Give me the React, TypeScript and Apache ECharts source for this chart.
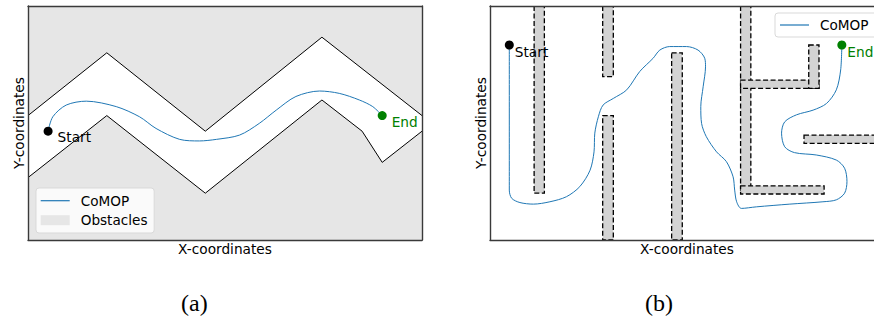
import React, { useEffect, useRef } from "react";
import * as echarts from "echarts";

// ---------- (a) corridor ----------
const upperX = [0, 2, 4.5, 7.46, 10];
const upperY = [3.19, 4.8, 2.79, 5.2, 3.19];
const lowerX = [0, 2, 4.5, 7.46, 8.48, 8.99, 10];
const lowerY = [1.6, 3.19, 1.2, 3.59, 2.79, 1.99, 2.79];

const pathAX = [0.51, 0.63, 0.97, 1.48, 2.24, 2.83, 3.25, 3.85, 4.35, 4.78, 5.37, 5.87, 6.3, 6.8, 7.4, 7.9, 8.41, 8.75, 8.99];
const pathAY = [2.79, 3.16, 3.46, 3.56, 3.42, 3.16, 2.86, 2.58, 2.54, 2.58, 2.69, 2.99, 3.33, 3.68, 3.82, 3.76, 3.59, 3.42, 3.19];

// ---------- (b) maze ----------
// [x0, y0, x1, y1]
const obstaclesB = [
  [1.12, 1.2, 1.38, 6.0],
  [2.86, 4.19, 3.13, 6.0],
  [2.86, 0, 3.13, 3.19],
  [4.61, 0, 4.88, 4.8],
  [6.36, 1.2, 6.62, 6.0],
  [6.36, 3.89, 8.35, 4.1],
  [8.09, 3.89, 8.35, 5.0],
  [7.97, 2.48, 10.6, 2.69],
  [6.36, 1.18, 8.48, 1.39],
];

const pathBX = [0.49, 0.49, 0.55, 0.76, 1.1, 1.52, 1.94, 2.28, 2.54, 2.64, 2.66, 2.75, 2.87, 3.13, 3.47, 3.8, 4.14, 4.31, 4.56, 4.99, 5.28, 5.45, 5.47, 5.41, 5.35, 5.37, 5.49, 5.75, 6.0, 6.17, 6.21, 6.26, 6.38, 6.76, 7.61, 8.45, 8.79, 9.0, 9.06, 9.0, 8.79, 8.28, 7.73, 7.48, 7.4, 7.48, 7.78, 8.2, 8.54, 8.79, 8.9, 8.93];
const pathBY = [5.0, 1.28, 1.07, 0.96, 0.92, 0.98, 1.11, 1.37, 1.79, 2.26, 2.74, 3.16, 3.46, 3.63, 3.85, 4.32, 4.66, 4.87, 4.96, 4.96, 4.87, 4.66, 4.44, 3.93, 3.42, 2.99, 2.65, 2.26, 2.01, 1.62, 1.28, 0.98, 0.81, 0.85, 0.92, 0.98, 1.03, 1.2, 1.5, 1.84, 2.05, 2.18, 2.24, 2.39, 2.74, 3.03, 3.21, 3.33, 3.5, 3.85, 4.36, 5.0];

const X_MAX = 10;
const Y_MAX = 6;

const FONT = "DejaVu Sans";
const BLUE = "#1f77b4";
const SPINE = "#3a3a3a";
const LINE_ICON = "path://M0,0L29,0L29,1.2L0,1.2Z";

const zip = (xs: number[], ys: number[]) => xs.map((x, i) => [x, ys[i]]);

export default function App() {
  const ref = useRef<HTMLDivElement>(null);
  useEffect(() => {
    if (!ref.current) return;
    const chart = echarts.init(ref.current, null, { renderer: "svg" });

    const upperPoly = [[0, Y_MAX], ...zip(upperX, upperY), [X_MAX, Y_MAX]];
    const lowerPoly = [[0, 0], ...zip(lowerX, lowerY), [X_MAX, 0]];
    const polysA = [upperPoly, lowerPoly];

    const mkX = (gridIndex: number, position: string, name?: string) => ({
      type: "value",
      gridIndex,
      position,
      min: 0,
      max: X_MAX,
      z: 10,
      axisLine: { show: true, onZero: false, lineStyle: { color: SPINE, width: 1.4 } },
      axisTick: { show: false },
      axisLabel: { show: false },
      splitLine: { show: false },
      name,
      nameLocation: "middle",
      nameGap: 2,
      nameTextStyle: { fontFamily: FONT, fontSize: 13.7, color: "#000", verticalAlign: "top" },
    });
    const mkY = (gridIndex: number, position: string, name?: string) => ({
      type: "value",
      gridIndex,
      position,
      min: 0,
      max: Y_MAX,
      z: 10,
      axisLine: { show: true, onZero: false, lineStyle: { color: SPINE, width: 1.4 } },
      axisTick: { show: false },
      axisLabel: { show: false },
      splitLine: { show: false },
      name,
      nameLocation: "middle",
      nameGap: 2,
      nameRotate: 90,
      nameTextStyle: { fontFamily: FONT, fontSize: 13.7, color: "#000" },
    });

    const legendCommon = {
      orient: "vertical",
      selectedMode: false,
      itemWidth: 29,
      itemHeight: 10,
      itemGap: 5.5,
      backgroundColor: "rgba(255,255,255,0.8)",
      borderColor: "#d9d9d9",
      borderWidth: 1,
      borderRadius: 3,
      textStyle: { fontFamily: FONT, fontSize: 13.6, color: "#000", padding: [0, 0, 0, 6] },
    };

    const markerLabel = (text: string, color: string, dist: number, dy: number) => ({
      show: true,
      formatter: text,
      position: "right",
      distance: dist,
      offset: [0, dy],
      color,
      fontFamily: FONT,
      fontSize: 13.7,
    });

    const option: any = {
      animation: false,
      textStyle: { fontFamily: FONT },
      grid: [
        { left: 28, top: 6, width: 394, height: 234, show: false },
        { left: 490, top: 6, width: 394, height: 234, show: false },
      ],
      xAxis: [mkX(0, "bottom", "X-coordinates"), mkX(0, "top"), mkX(1, "bottom", "X-coordinates"), mkX(1, "top")],
      yAxis: [mkY(0, "left", "Y-coordinates"), mkY(0, "right"), mkY(1, "left", "Y-coordinates"), mkY(1, "right")],
      legend: [
        {
          ...legendCommon,
          left: 36,
          top: 188,
          padding: [5.7, 6.7, 5.8, 4.7],
          data: [{ name: "CoMOP", icon: LINE_ICON }, { name: "Obstacles", icon: "rect" }],
        },
        {
          ...legendCommon,
          left: 775,
          top: 13,
          padding: [5, 14, 5, 5],
          data: [{ name: "CoMOP", icon: LINE_ICON }],
        },
      ],
      graphic: [
        { type: "text", left: 181, top: 291, style: { text: "(a)", font: "24px 'Liberation Serif'", fill: "#000" } },
        { type: "text", left: 645, top: 291, style: { text: "(b)", font: "24px 'Liberation Serif'", fill: "#000" } },
      ],
      series: [
        // (a) obstacles
        {
          type: "custom",
          name: "Obstacles",
          xAxisIndex: 0,
          yAxisIndex: 0,
          z: 1,
          itemStyle: { color: "#e6e6e6" },
          data: polysA.map((_, i) => [i]),
          renderItem: (params: any, api: any) => {
            const pts = polysA[params.dataIndex].map((p) => api.coord(p));
            return { type: "polygon", shape: { points: pts }, style: { fill: "#e6e6e6", stroke: "none" } };
          },
        },
        {
          type: "line",
          name: "upper",
          xAxisIndex: 0,
          yAxisIndex: 0,
          z: 2,
          symbol: "none",
          lineStyle: { color: "#000", width: 1 },
          data: zip(upperX, upperY),
        },
        {
          type: "line",
          name: "lower",
          xAxisIndex: 0,
          yAxisIndex: 0,
          z: 2,
          symbol: "none",
          lineStyle: { color: "#000", width: 1 },
          data: zip(lowerX, lowerY),
        },
        {
          type: "line",
          name: "CoMOP",
          xAxisIndex: 0,
          yAxisIndex: 0,
          z: 3,
          symbol: "none",
          smooth: 0.3,
          color: BLUE,
          lineStyle: { color: BLUE, width: 1 },
          data: zip(pathAX, pathAY),
        },
        {
          type: "scatter",
          name: "startA",
          xAxisIndex: 0,
          yAxisIndex: 0,
          z: 4,
          symbolSize: 9,
          itemStyle: { color: "#000", opacity: 1 },
          label: markerLabel("Start", "#000", 5, 6),
          data: [[pathAX[0], pathAY[0]]],
        },
        {
          type: "scatter",
          name: "endA",
          xAxisIndex: 0,
          yAxisIndex: 0,
          z: 4,
          symbolSize: 9,
          itemStyle: { color: "#008000", opacity: 1 },
          label: markerLabel("End", "#008000", 5, 6),
          data: [[pathAX[pathAX.length - 1], pathAY[pathAY.length - 1]]],
        },
        // (b) obstacles
        {
          type: "custom",
          name: "ObstaclesB",
          xAxisIndex: 2,
          yAxisIndex: 2,
          z: 1,
          clip: true,
          data: obstaclesB,
          renderItem: (params: any, api: any) => {
            const p0 = api.coord([api.value(0), api.value(3)]);
            const p1 = api.coord([api.value(2), api.value(1)]);
            const shape = { x: p0[0], y: p0[1], width: p1[0] - p0[0], height: p1[1] - p0[1] };
            const clipped = echarts.graphic.clipRectByRect(shape, {
              x: params.coordSys.x,
              y: params.coordSys.y,
              width: params.coordSys.width,
              height: params.coordSys.height,
            });
            return {
              type: "rect",
              shape: clipped || shape,
              style: { fill: "#d3d3d3", stroke: "#000", lineWidth: 1.3, lineDash: [5, 2.5] },
            };
          },
        },
        {
          type: "line",
          name: "CoMOP",
          xAxisIndex: 2,
          yAxisIndex: 2,
          z: 3,
          symbol: "none",
          smooth: 0.3,
          color: BLUE,
          lineStyle: { color: BLUE, width: 1 },
          data: zip(pathBX, pathBY),
        },
        {
          type: "scatter",
          name: "startB",
          xAxisIndex: 2,
          yAxisIndex: 2,
          z: 4,
          symbolSize: 9,
          itemStyle: { color: "#000", opacity: 1 },
          label: markerLabel("Start", "#000", 1, 7),
          data: [[pathBX[0], pathBY[0]]],
        },
        {
          type: "scatter",
          name: "endB",
          xAxisIndex: 2,
          yAxisIndex: 2,
          z: 4,
          symbolSize: 9,
          itemStyle: { color: "#008000", opacity: 1 },
          label: markerLabel("End", "#008000", 1, 7),
          data: [[pathBX[pathBX.length - 1], pathBY[pathBY.length - 1]]],
        },
      ],
    };
    chart.setOption(option);
    return () => chart.dispose();
  }, []);

  return (
    <div
      ref={ref}
      style={{ position: "fixed", left: 0, top: 0, width: 892, height: 321, background: "#fff" }}
    />
  );
}
